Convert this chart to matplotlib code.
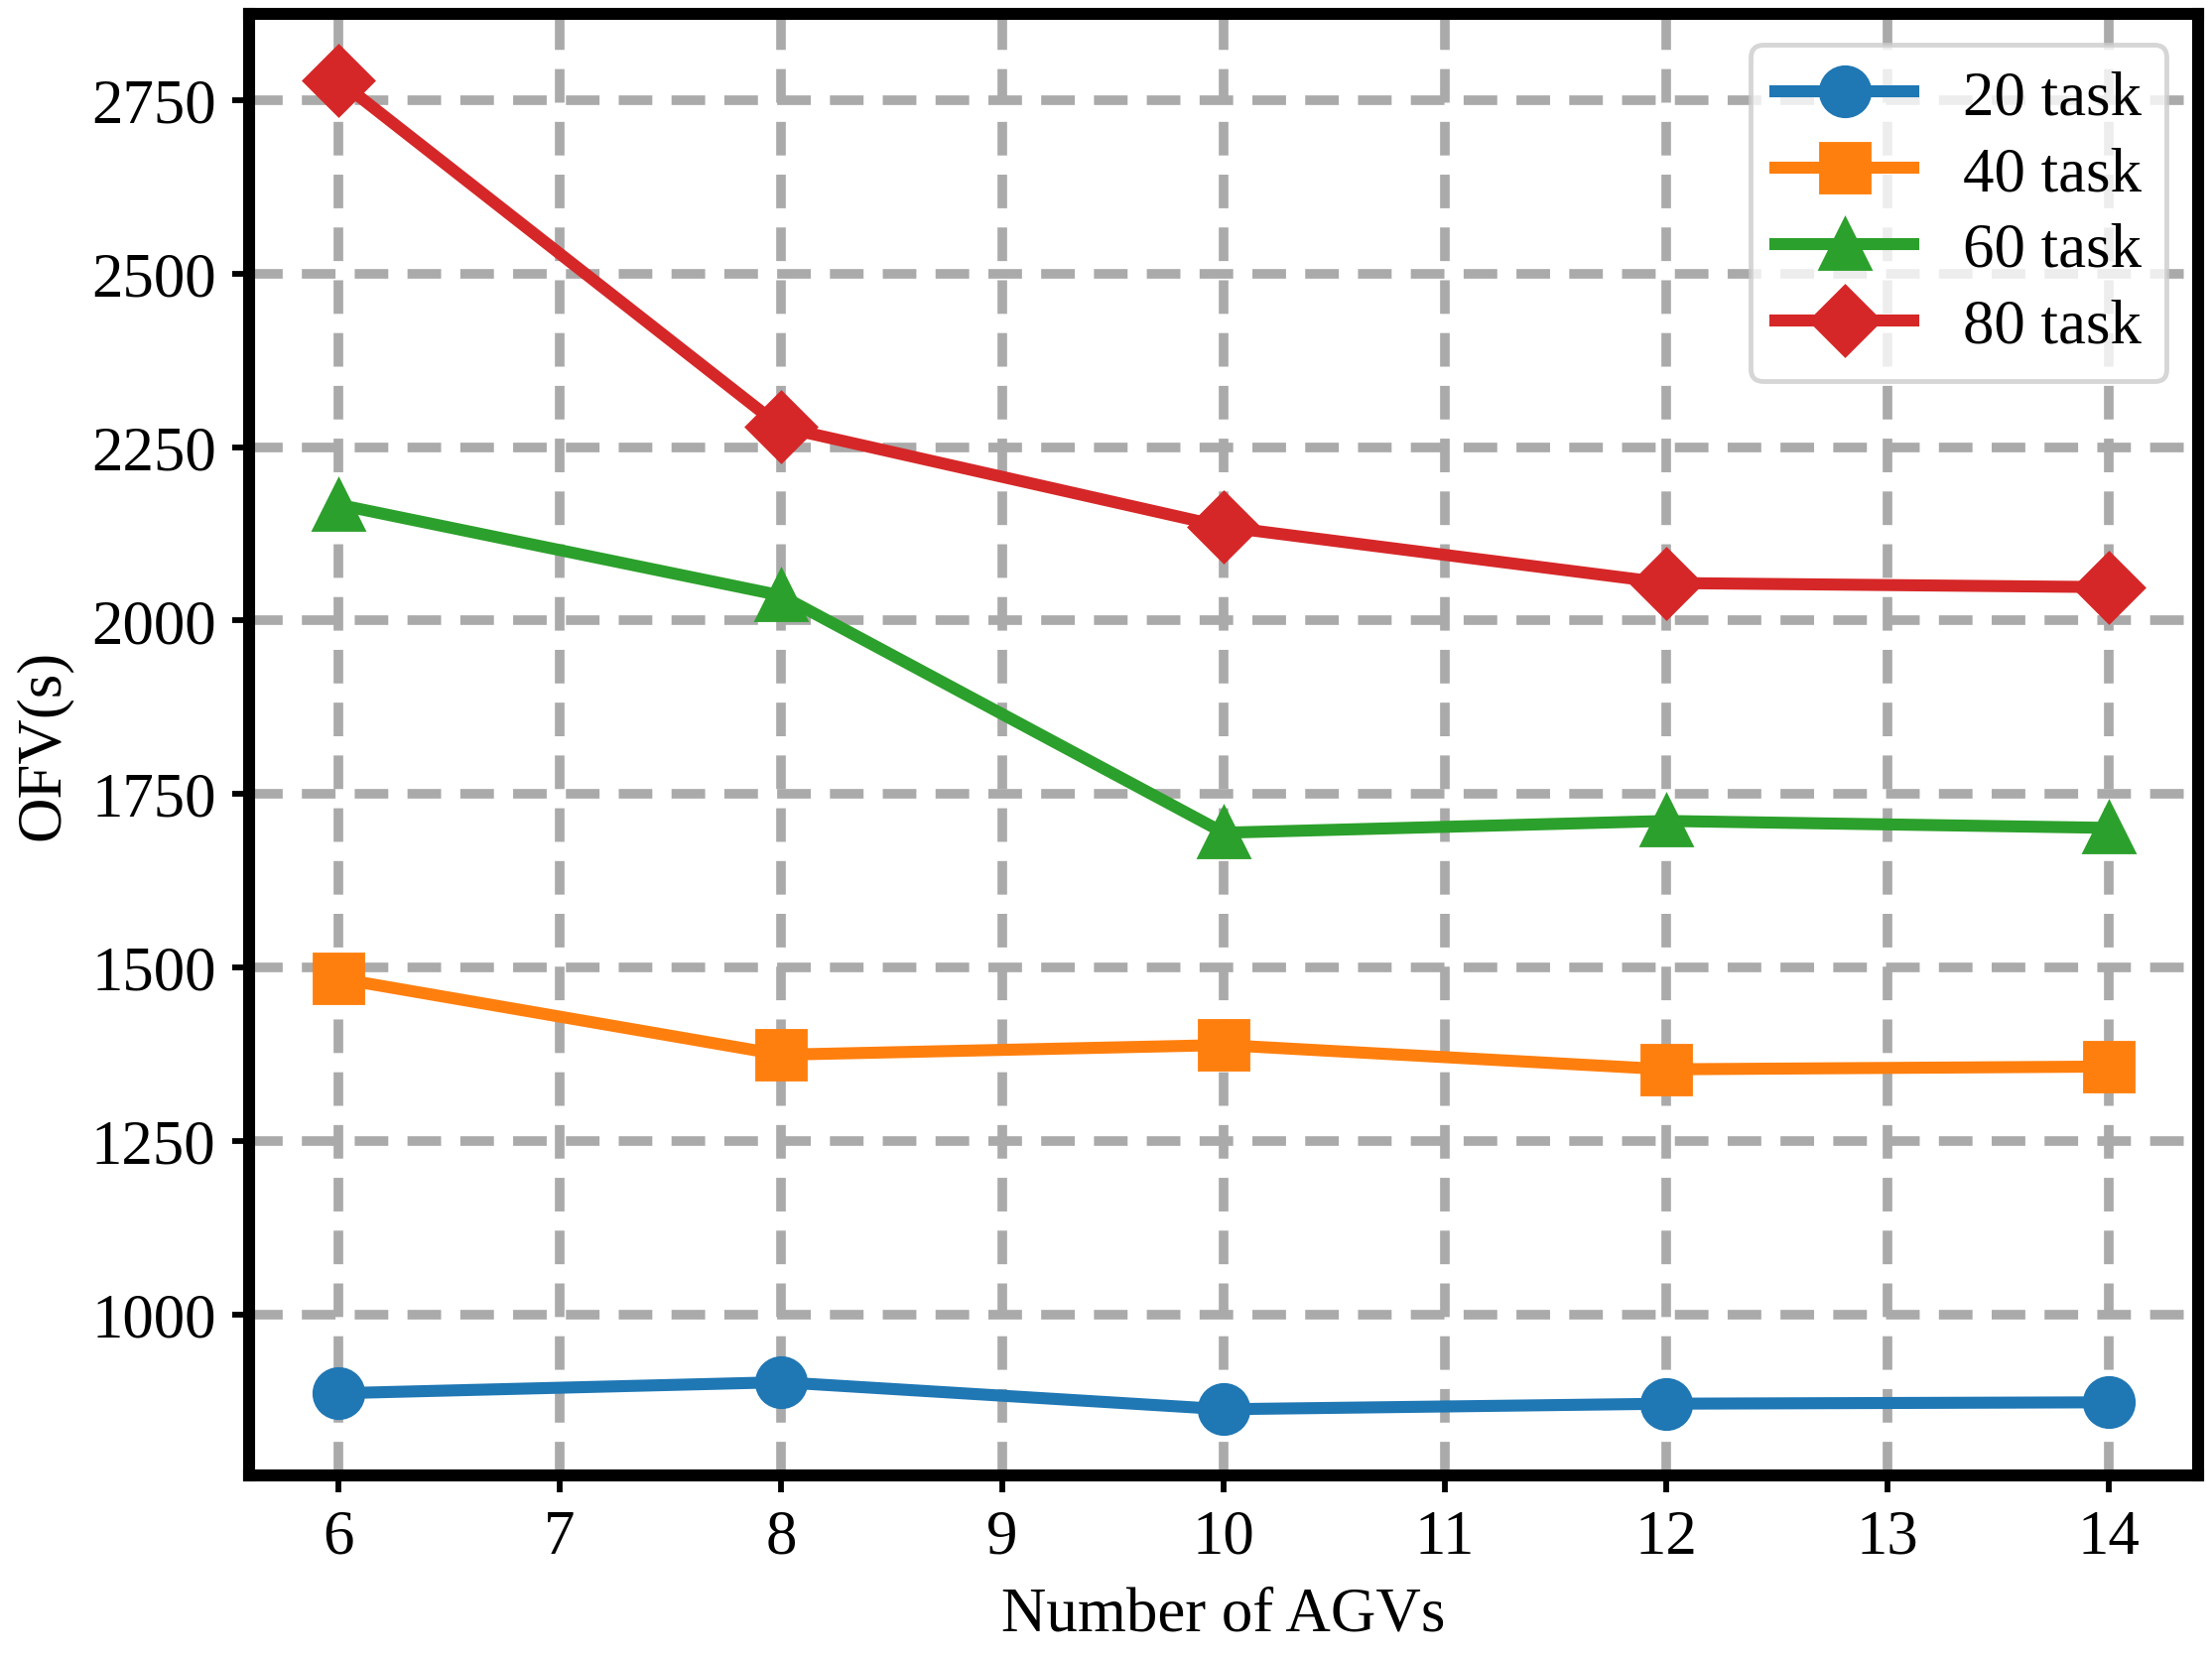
import matplotlib
matplotlib.use("Agg")
import matplotlib.pyplot as plt

plt.rcParams["font.family"] = "Liberation Serif"
agvs = [6, 8, 10, 12, 14]
t20 = [886, 902, 863, 871, 873]
t40 = [1484, 1374, 1388, 1353, 1357]
t60 = [2167, 2036, 1694, 1711, 1701]
t80 = [2779, 2279, 2135, 2054, 2048]
labels = ["20 task", "40 task", "60 task", "80 task"]

fig, ax = plt.subplots(figsize=(6.4, 4.8), dpi=348.3)
for y, m, lab in zip([t20, t40, t60, t80], ["o", "s", "^", "D"], labels):
    ax.plot(agvs, y, marker=m, lw=2.5, ms=10, label=lab)
ax.grid(True, ls=(0, (3.5, 2)), lw=2, color="#aaaaaa")
ax.set_axisbelow(True)
for s in ax.spines.values():
    s.set_linewidth(2.5)
ax.set_xlabel("Number of AGVs", fontsize=13)
ax.set_ylabel("OFV(s)", fontsize=13)
ax.tick_params(labelsize=13, width=1.2)
ax.legend(fontsize=13, loc="upper right", labelspacing=0.3, handlelength=2.2)
fig.tight_layout(pad=0.3)
fig.savefig("out.png")
